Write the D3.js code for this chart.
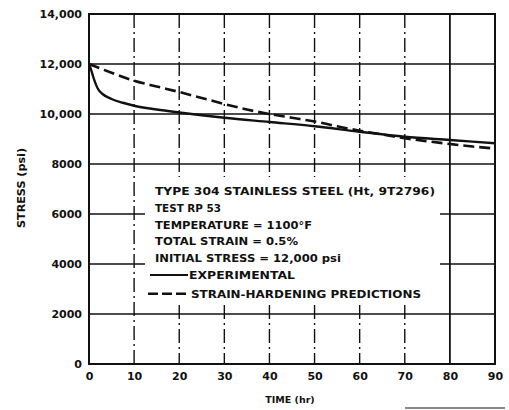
<!DOCTYPE html>
<html>
<head>
<meta charset="utf-8">
<script src="https://cdn.jsdelivr.net/npm/d3@7"></script>
<style>
  html, body { margin: 0; padding: 0; background: #fff; }
  svg { display: block; }
  text { font-family: "DejaVu Sans", "Liberation Sans", sans-serif; font-weight: bold; fill: #111; }
</style>
</head>
<body>
<svg id="chart" width="509" height="410"></svg>
<script>
// Stress relaxation of Type 304 stainless steel at 1100°F
const xTicks = [0, 10, 20, 30, 40, 50, 60, 70, 80, 90];
const yTicks = [0, 2000, 4000, 6000, 8000, 10000, 12000, 14000];
const yTickLabels = ["0", "2000", "4000", "6000", "8000", "10,000", "12,000", "14,000"];

// Measured relaxation curve (time in hr, stress in psi)
const expTime   = [0, 0.5, 1, 2, 3, 5, 7.5, 10, 15, 20, 25, 30, 40, 50, 60, 70, 80, 90];
const expStress = [12000, 11750, 11450, 11000, 10800, 10600, 10450, 10330, 10180, 10060, 9950, 9850, 9680, 9510, 9290, 9090, 8960, 8830];

// Strain-hardening prediction
const predTime   = [0, 5, 10, 15, 20, 25, 30, 35, 40, 45, 50, 55, 60, 65, 70, 75, 80, 85, 90];
const predStress = [12000, 11650, 11330, 11100, 10880, 10640, 10400, 10180, 10000, 9850, 9700, 9510, 9330, 9180, 9030, 8910, 8800, 8700, 8620];

const noteLines = [
  "TYPE 304 STAINLESS STEEL (Ht, 9T2796)",
  "TEST RP 53",
  "TEMPERATURE = 1100°F",
  "TOTAL STRAIN = 0.5%",
  "INITIAL STRESS = 12,000 psi"
];
const legendLabels = ["EXPERIMENTAL", "STRAIN-HARDENING PREDICTIONS"];

const svg = d3.select("#chart");
const plot = { left: 89, right: 495, top: 14, bottom: 364 };

const x = d3.scaleLinear().domain([0, 90]).range([plot.left, plot.right]);
const y = d3.scaleLinear().domain([0, 14000]).range([plot.bottom, plot.top]);

const ink = "#111";

// Note block area (grid lines are interrupted behind it)
const noteBox = { x0: 145, x1: 440, y0: 177, y1: 305 };

// Horizontal grid lines
const hGrid = svg.append("g");
yTicks.filter(v => v > 0 && v < 14000).forEach(v => {
  const yy = y(v);
  if (yy > noteBox.y0 && yy < noteBox.y1) {
    hGrid.append("line").attr("x1", plot.left).attr("x2", noteBox.x0).attr("y1", yy).attr("y2", yy);
    hGrid.append("line").attr("x1", noteBox.x1).attr("x2", plot.right).attr("y1", yy).attr("y2", yy);
  } else {
    hGrid.append("line").attr("x1", plot.left).attr("x2", plot.right).attr("y1", yy).attr("y2", yy);
  }
});
hGrid.selectAll("line").attr("stroke", ink).attr("stroke-width", 1.6);

// Vertical grid lines
const vGrid = svg.append("g");
xTicks.filter(v => v > 0 && v < 90).forEach(v => {
  const xx = x(v);
  const dashed = v < 80;
  const segs = (xx > noteBox.x0 && xx < noteBox.x1)
    ? [[plot.top, noteBox.y0], [noteBox.y1, plot.bottom]]
    : [[plot.top, plot.bottom]];
  segs.forEach(([a, b]) => {
    vGrid.append("line")
      .attr("x1", xx).attr("x2", xx).attr("y1", a).attr("y2", b)
      .attr("stroke", ink)
      .attr("stroke-width", dashed ? 1.4 : 1.8)
      .attr("stroke-dasharray", dashed ? "14,4,2,4" : null);
  });
});

// Plot frame
svg.append("rect")
  .attr("x", plot.left).attr("y", plot.top)
  .attr("width", plot.right - plot.left).attr("height", plot.bottom - plot.top)
  .attr("fill", "none").attr("stroke", ink).attr("stroke-width", 2);

// Axes
const yAxis = d3.axisLeft(y).tickValues(yTicks)
  .tickFormat((d, i) => yTickLabels[i]).tickSize(0).tickPadding(7);
const gy = svg.append("g").attr("transform", `translate(${plot.left},0)`).call(yAxis);
gy.select(".domain").remove();
gy.selectAll("text").style("font-size", "11px").attr("font-family", null).attr("fill", ink);

const xAxis = d3.axisBottom(x).tickValues(xTicks).tickSize(0).tickPadding(8);
const gx = svg.append("g").attr("transform", `translate(0,${plot.bottom})`).call(xAxis);
gx.select(".domain").remove();
gx.selectAll("text").style("font-size", "11px").attr("font-family", null).attr("fill", ink);

// Axis titles
svg.append("text")
  .attr("transform", "translate(25,188) rotate(-90)")
  .attr("text-anchor", "middle")
  .attr("textLength", 80).attr("lengthAdjust", "spacingAndGlyphs")
  .style("font-size", "10px")
  .text("STRESS (psi)");

svg.append("text")
  .attr("x", (plot.left + plot.right) / 2 - 2).attr("y", 403)
  .attr("text-anchor", "middle")
  .style("font-size", "9.5px")
  .text("TIME (hr)");

// Curves
const line = d3.line().curve(d3.curveMonotoneX);
const expPts = expTime.map((t, i) => [x(t), y(expStress[i])]);
const predPts = predTime.map((t, i) => [x(t), y(predStress[i])]);

svg.append("path")
  .attr("d", line(predPts))
  .attr("fill", "none").attr("stroke", ink).attr("stroke-width", 2.6)
  .attr("stroke-dasharray", "11,5");

svg.append("path")
  .attr("d", line(expPts))
  .attr("fill", "none").attr("stroke", ink).attr("stroke-width", 2.4);

// Note block
const noteX = 155;
const noteY0 = 195;
const lineStep = 16.8;
const noteWidths = [280, 66, 157, 143, 186];
noteLines.forEach((s, i) => {
  svg.append("text")
    .attr("x", noteX).attr("y", noteY0 + i * lineStep)
    .attr("textLength", noteWidths[i]).attr("lengthAdjust", "spacingAndGlyphs")
    .style("font-size", "10.5px")
    .text(s);
});

// Legend
const legY = [noteY0 + 5 * lineStep - 4, noteY0 + 6 * lineStep - 2];
const legWidths = [106, 230];
svg.append("line")
  .attr("x1", 150).attr("x2", 188).attr("y1", legY[0]).attr("y2", legY[0])
  .attr("stroke", ink).attr("stroke-width", 2);
svg.append("line")
  .attr("x1", 148).attr("x2", 190).attr("y1", legY[1]).attr("y2", legY[1])
  .attr("stroke", ink).attr("stroke-width", 2.4).attr("stroke-dasharray", "10,4");
legendLabels.forEach((s, i) => {
  svg.append("text")
    .attr("x", i === 0 ? 189 : 191).attr("y", legY[i] + 4)
    .attr("textLength", legWidths[i]).attr("lengthAdjust", "spacingAndGlyphs")
    .style("font-size", "10.5px")
    .text(s);
});

// Short rule at the lower right
svg.append("line")
  .attr("x1", 405).attr("x2", 505).attr("y1", 408).attr("y2", 408)
  .attr("stroke", ink).attr("stroke-width", 1.2);
</script>
</body>
</html>
